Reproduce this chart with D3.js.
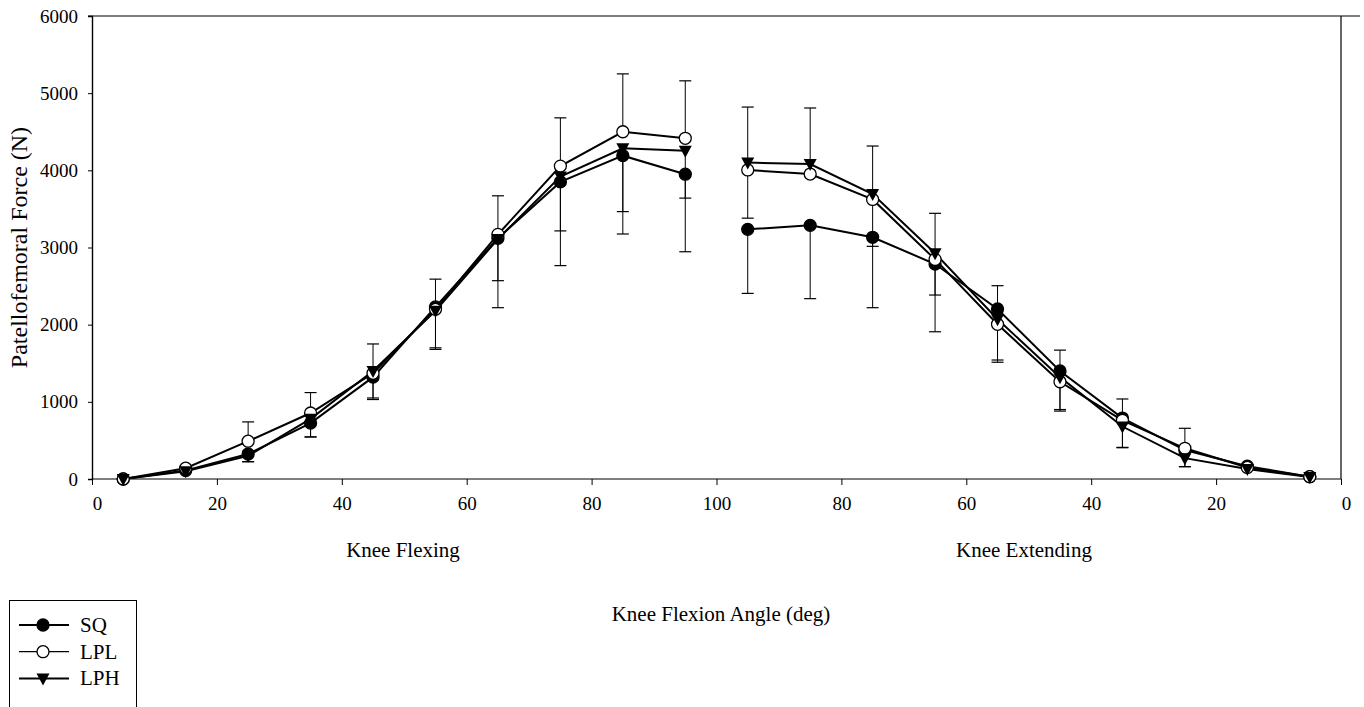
<!DOCTYPE html>
<html>
<head>
<meta charset="utf-8">
<script src="https://cdn.jsdelivr.net/npm/d3@7"></script>
<style>
  body { margin: 0; background: #fff; }
  svg text { font-family: "Liberation Serif", "Times New Roman", serif; fill: #000; }
</style>
</head>
<body>
<svg id="chart" width="1364" height="707"></svg>
<script>
// positions along the axis: 5..95 = knee flexing, 105..195 = knee extending (angle 95..5)
var flexPos = [5, 15, 25, 35, 45, 55, 65, 75, 85, 95];
var extPos = [105, 115, 125, 135, 145, 155, 165, 175, 185, 195];
var xTicks = [0, 20, 40, 60, 80, 100, 120, 140, 160, 180, 200];
var yTicks = [0, 1000, 2000, 3000, 4000, 5000, 6000];

// patellofemoral force (N)
var sqFlex = [0, 110, 324, 725, 1320, 2230, 3120, 3850, 4190, 3950];
var sqExt = [3235, 3287, 3132, 2786, 2203, 1400, 790, 375, 165, 30];
var lplFlex = [0, 140, 490, 855, 1370, 2200, 3170, 4055, 4500, 4415];
var lplExt = [4005, 3952, 3623, 2846, 2005, 1260, 760, 398, 150, 30];
var lphFlex = [0, 100, 300, 780, 1400, 2180, 3110, 3920, 4285, 4255];
var lphExt = [4100, 4082, 3693, 2925, 2070, 1320, 680, 270, 130, 25];

// standard deviations (SQ & LPH drawn downward, LPL upward)
var sqSdFlex = [0, 0, 100, 180, 290, 550, 900, 1085, 1015, 1005];
var sqSdExt = [830, 950, 912, 878, 690, 520, 385, 215, 0, 0];
var lplSdFlex = [0, 0, 250, 265, 380, 390, 500, 625, 750, 745];
var lplSdExt = [815, 856, 692, 597, 500, 410, 277, 259, 0, 0];
var lphSdFlex = [0, 0, 75, 235, 350, 480, 540, 705, 820, 615];
var lphSdExt = [720, 0, 678, 541, 528, 420, 270, 110, 0, 0];

var series = [
    { name: "SQ", flex: sqFlex, ext: sqExt, sdFlex: sqSdFlex, sdExt: sqSdExt, dir: -1, marker: "dot" },
    { name: "LPL", flex: lplFlex, ext: lplExt, sdFlex: lplSdFlex, sdExt: lplSdExt, dir: 1, marker: "open" },
    { name: "LPH", flex: lphFlex, ext: lphExt, sdFlex: lphSdFlex, sdExt: lphSdExt, dir: -1, marker: "tri" }
];

var svg = d3.select("#chart");
var x = d3.scaleLinear().domain([0, 200]).range([92, 1341]);
var y = d3.scaleLinear().domain([0, 6000]).range([479, 16]);

// frame
svg.append("line").attr("x1", 88).attr("x2", 1360).attr("y1", y(6000)).attr("y2", y(6000))
    .attr("stroke", "#000").attr("stroke-width", 1.2);
svg.append("line").attr("x1", x(200)).attr("x2", x(200)).attr("y1", y(6000)).attr("y2", y(0))
    .attr("stroke", "#000").attr("stroke-width", 1.2);

// y axis
var yAxis = d3.axisLeft(y).tickValues(yTicks).tickSize(4).tickPadding(10).tickFormat(d3.format("d"));
var gy = svg.append("g").attr("transform", "translate(" + x(0) + ",0)").call(yAxis);
gy.select(".domain").attr("stroke-width", 1.4);
gy.selectAll("text").style("font-size", "19px");

// x axis
var xAxis = d3.axisBottom(x).tickValues(xTicks).tickSize(6).tickPadding(12)
    .tickFormat(function (d) { return d <= 100 ? d : 200 - d; });
var gx = svg.append("g").attr("transform", "translate(0," + y(0) + ")").call(xAxis);
gx.select(".domain").attr("stroke-width", 1.2).attr("d", "M" + x(0) + ",0H" + x(200));
gx.selectAll("text").style("font-size", "19px")
    .attr("dx", function (d) { return (d === 0 || d === 200) ? 5 : 0; });

// labels
svg.append("text").attr("transform", "translate(27," + y(3000) + ") rotate(-90)")
    .style("text-anchor", "middle").style("font-size", "24px").text("Patellofemoral Force (N)");
svg.append("text").attr("x", 403).attr("y", 557).style("text-anchor", "middle")
    .style("font-size", "21px").text("Knee Flexing");
svg.append("text").attr("x", 1024).attr("y", 557).style("text-anchor", "middle")
    .style("font-size", "21px").text("Knee Extending");
svg.append("text").attr("x", 721).attr("y", 621).style("text-anchor", "middle")
    .style("font-size", "21px").text("Knee Flexion Angle (deg)");

// error bars
var bars = svg.append("g");
series.forEach(function (s) {
    [[flexPos, s.flex, s.sdFlex], [extPos, s.ext, s.sdExt]].forEach(function (p) {
        p[0].forEach(function (pos, i) {
            var sd = p[2][i];
            if (!sd) return;
            var end = p[1][i] + s.dir * sd;
            bars.append("line").attr("x1", x(pos)).attr("x2", x(pos))
                .attr("y1", y(p[1][i])).attr("y2", y(end))
                .attr("stroke", "#000").attr("stroke-width", 1);
            bars.append("line").attr("x1", x(pos) - 6).attr("x2", x(pos) + 6)
                .attr("y1", y(end)).attr("y2", y(end))
                .attr("stroke", "#000").attr("stroke-width", 1.2);
        });
    });
});

// lines
var line = d3.line().x(function (d) { return x(d[0]); }).y(function (d) { return y(d[1]); });
series.forEach(function (s) {
    [[flexPos, s.flex], [extPos, s.ext]].forEach(function (p) {
        var pts = p[0].map(function (pos, i) { return [pos, p[1][i]]; });
        svg.append("path").attr("d", line(pts)).attr("fill", "none")
            .attr("stroke", "#000").attr("stroke-width", 2);
    });
});

// markers
function drawMarker(g, type, cx, cy) {
    if (type === "tri") {
        g.append("path").attr("d", "M" + (cx - 6.5) + "," + (cy - 5) + "L" + (cx + 6.5) + "," + (cy - 5) + "L" + cx + "," + (cy + 7) + "Z")
            .attr("fill", "#000");
    } else {
        g.append("circle").attr("cx", cx).attr("cy", cy).attr("r", 6)
            .attr("fill", type === "dot" ? "#000" : "#fff").attr("stroke", "#000").attr("stroke-width", 1.3);
    }
}
var marks = svg.append("g");
series.forEach(function (s) {
    [[flexPos, s.flex], [extPos, s.ext]].forEach(function (p) {
        p[0].forEach(function (pos, i) { drawMarker(marks, s.marker, x(pos), y(p[1][i])); });
    });
});

// legend
var lg = svg.append("g");
lg.append("rect").attr("x", 9.5).attr("y", 600.5).attr("width", 127).attr("height", 120)
    .attr("fill", "#fff").attr("stroke", "#000").attr("stroke-width", 1);
series.forEach(function (s, i) {
    var ly = 625 + i * 26.7;
    lg.append("line").attr("x1", 19).attr("x2", 69).attr("y1", ly).attr("y2", ly)
        .attr("stroke", "#000").attr("stroke-width", i === 1 ? 1.2 : 2);
    drawMarker(lg, s.marker, 43, ly);
    lg.append("text").attr("x", 80).attr("y", ly + 7).style("font-size", "21px").text(s.name);
});
</script>
</body>
</html>
